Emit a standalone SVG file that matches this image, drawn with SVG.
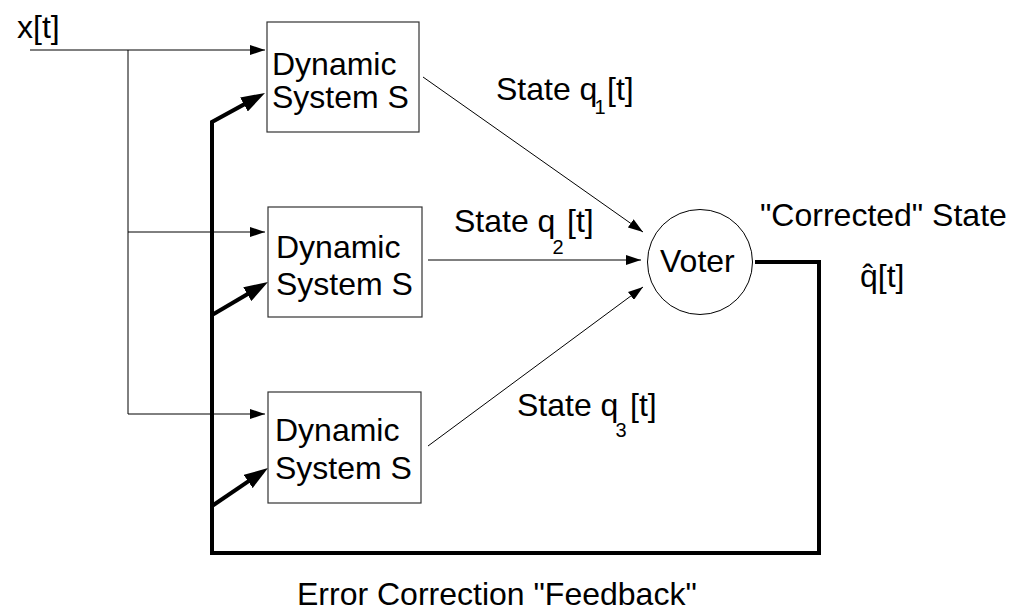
<svg xmlns="http://www.w3.org/2000/svg" width="1016" height="612" viewBox="0 0 1016 612">
<style>
text{font-family:"Liberation Sans",Arial,sans-serif;font-size:32px;fill:#000}
.box{fill:#fff;stroke:#333;stroke-width:1.2}
.thin{fill:none;stroke:#000;stroke-width:1}
.thick{fill:none;stroke:#000;stroke-width:4;stroke-linejoin:miter}
.sub{font-size:20px}
</style>
<defs>
<marker id="a" markerUnits="userSpaceOnUse" markerWidth="15" markerHeight="10" refX="15" refY="5" orient="auto"><path d="M0,0 L15,5 L0,10 z" fill="#000"/></marker>
<marker id="b" markerUnits="userSpaceOnUse" markerWidth="24" markerHeight="16" refX="16" refY="8" orient="auto"><path d="M0,0 L24,8 L0,16 z" fill="#000"/></marker>
</defs>
<rect width="1016" height="612" fill="#fff"/>
<g id="connectors">
<path class="thin" d="M30,50 H265" marker-end="url(#a)"/>
<path class="thin" d="M128,50 V414"/>
<path class="thin" d="M128,232 H265" marker-end="url(#a)"/>
<path class="thin" d="M128,414 H265" marker-end="url(#a)"/>
<path class="thin" d="M423,77 L643,232" marker-end="url(#a)"/>
<path class="thin" d="M428,260 H641" marker-end="url(#a)"/>
<path class="thin" d="M428,446 L643,287" marker-end="url(#a)"/>
<path class="thick" d="M755,262 H819 V553 H212 V122 L258,96.8" marker-end="url(#b)"/>
<path class="thick" d="M212,315 L261.1,286.1" marker-end="url(#b)"/>
<path class="thick" d="M212,506 L261.4,472.5" marker-end="url(#b)"/>
</g>
<g id="input-label"><text x="17" y="38">x[t]</text></g>
<g id="system1">
<rect class="box" x="267" y="22" width="152" height="110"/>
<text x="272" y="75">Dynamic</text>
<text x="272" y="108">System S</text>
</g>
<g id="system2">
<rect class="box" x="268" y="207" width="154" height="110"/>
<text x="276" y="258">Dynamic</text>
<text x="276" y="295">System S</text>
</g>
<g id="system3">
<rect class="box" x="268" y="392" width="153" height="111"/>
<text x="275" y="441">Dynamic</text>
<text x="275" y="479">System S</text>
</g>
<g id="voter">
<circle cx="700" cy="262" r="52.5" fill="#fff" stroke="#000" stroke-width="1"/>
<text x="660" y="272">Voter</text>
</g>
<g id="labels">
<text x="496" y="100">State q<tspan class="sub" dx="-3" dy="14">1</tspan><tspan dy="-14" x="607">[t]</tspan></text>
<text x="454" y="232">State q<tspan class="sub" dx="-3" dy="22">2</tspan><tspan dy="-22" x="567">[t]</tspan></text>
<text x="517" y="416">State q<tspan class="sub" dx="-3" dy="21">3</tspan><tspan dy="-21" x="630">[t]</tspan></text>
<text x="760" y="226">"Corrected" State</text>
<text x="860" y="287">q̂[t]</text>
<text x="297" y="605">Error Correction "Feedback"</text>
</g>
</svg>
